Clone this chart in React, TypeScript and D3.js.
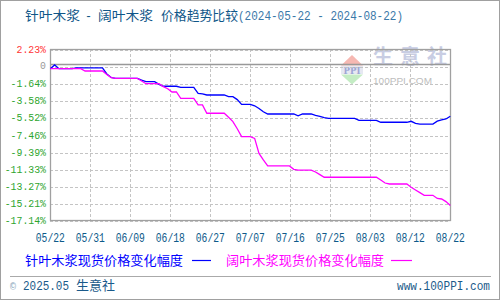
import React from 'react';
import * as d3 from 'd3';

const startDate = '2024-05-22';
const endDate = '2024-08-22';

// daily % change series (day 0 = 2024-05-22)
const softwood = [
  0, 0.42, 0, 0, 0, 0, 0.1, 0.1, 0.1, 0.1,
  0.1, 0.1, 0.1, -0.6, -1.0, -1.09, -1.09, -1.09, -1.09, -1.09,
  -1.09, -1.3, -1.47, -1.47, -1.47, -1.77, -1.99, -1.99, -1.99, -1.99,
  -2.11, -2.11, -2.11, -2.11, -2.79, -2.85, -2.98, -2.98, -2.98, -2.98,
  -2.98, -3.17, -3.17, -3.5, -4.04, -4.04, -4.04, -4.2, -4.51, -4.88,
  -5.13, -5.13, -5.13, -5.13, -5.13, -5.13, -5.13, -5.33, -5.13, -5.13,
  -5.13, -5.3, -5.4, -5.55, -5.62, -5.62, -5.62, -5.62, -5.62, -5.62,
  -5.62, -5.85, -5.85, -5.85, -5.85, -5.85, -6.07, -6.07, -6.07, -6.07,
  -6.07, -6.07, -6.07, -5.96, -6.2, -6.27, -6.27, -6.27, -6.27, -5.95,
  -5.81, -5.7, -5.38,
];

const hardwood = [
  0, 0, 0, 0, 0, 0, 0, 0, -0.26, -0.26,
  -0.26, -0.26, -0.26, -0.65, -1.0, -1.09, -1.09, -1.09, -1.09, -1.09,
  -1.09, -1.4, -1.7, -1.7, -1.7, -1.7, -2.04, -2.27, -2.64, -2.64,
  -3.36, -3.36, -3.36, -3.36, -4.11, -4.11, -5.05, -5.05, -5.05, -5.05,
  -5.05, -5.5, -5.99, -6.8, -7.7, -7.7, -7.7, -7.9, -9.6, -10.34,
  -11.02, -11.02, -11.02, -11.02, -11.02, -11.02, -11.4, -11.5, -11.5, -11.5,
  -11.5, -11.7, -12.0, -12.3, -12.3, -12.3, -12.3, -12.3, -12.3, -12.3,
  -12.3, -12.3, -12.3, -12.3, -12.3, -12.3, -12.61, -12.95, -13.06, -13.06,
  -13.06, -13.06, -13.06, -13.44, -13.74, -14.04, -14.34, -14.34, -14.34, -14.7,
  -14.76, -15.06, -15.5,
];

const xTickLabels = ['05/22', '05/31', '06/09', '06/18', '06/27', '07/07', '07/16', '07/25', '08/03', '08/12', '08/22'];
const yTickValues = [2.23, 0, -1.64, -3.58, -5.52, -7.46, -9.39, -11.33, -13.27, -15.21, -17.14];
const seriesNames = ['针叶木浆现货价格变化幅度', '阔叶木浆现货价格变化幅度'];
const seriesColors = ['#0000ff', '#ff00ff'];
const titleParts = ['针叶木浆', '-', '阔叶木浆', '价格趋势比较'];
const titleDates = '(2024-05-22 - 2024-08-22)';

const CJK = '"Noto Sans CJK SC", sans-serif';
const MONO = '"Liberation Mono", "DejaVu Sans Mono", monospace';

export default function App() {
  const W = 500, H = 300;
  const L = 50.3, R = 450.3, T = 49, B = 220;
  const parse = d3.utcParse('%Y-%m-%d');
  const t0 = parse(startDate)!;
  const t1 = parse(endDate)!;
  const x = d3.scaleUtc().domain([t0, t1]).range([L, R]);
  const yMin = yTickValues[yTickValues.length - 1];
  const yMax = yTickValues[0];
  const y = d3.scaleLinear().domain([yMin, yMax]).range([B, T]);

  const dates = softwood.map((_, i) => d3.utcDay.offset(t0, i));
  const line = d3.line<number>().x((_, i) => x(dates[i])).y((v) => y(v));

  const span = t1.getTime() - t0.getTime();
  const tickX = xTickLabels.map((_, k) => x(new Date(t0.getTime() + (k * span) / 10)));
  const gridVals = d3.range(11).map((k) => yMin + (k * (yMax - yMin)) / 10);
  const zeroY = Math.round(y(0)) - 4.5;

  const labelColor = (v: number) => (v > 0 ? '#ff3333' : v === 0 ? '#999999' : '#2ea52e');

  const titleX = [25, 85, 98, 161];
  const titleW = [55, 7, 55, 77];

  return (
    <svg width={W} height={H} style={{ position: 'absolute', left: 0, top: 0, background: '#fff' }}>
      <rect x={0.5} y={0.5} width={W - 1} height={H - 1} fill="#fff" stroke="#a0a0a0" />

      {/* title */}
      {titleParts.map((p, i) => (
        <text key={'t' + i} x={titleX[i]} y={19.5} fontFamily={p === '-' ? MONO : CJK} fontSize={13} fill="#0f5688"
          textLength={titleW[i]} lengthAdjust="spacingAndGlyphs">
          {p}
        </text>
      ))}
      <text x={238} y={19.5} fontFamily={MONO} fontSize={12} fill="#3a78a8" textLength={165} lengthAdjust="spacingAndGlyphs">
        {titleDates}
      </text>

      {/* watermark */}
      <g>
        <path d={`M352,55 L363,65.5 L341,65.5 Z`} fill="#f6b8b2" />
        <rect x={341} y={66} width={22} height={8} fill="#e6e8f2" />
        <text x={352} y={73.5} textAnchor="middle" fontFamily="DejaVu Serif, serif" fontWeight="bold" fontSize={8.5} fill="#9ea6d4">PPI</text>
        <path d={`M341,74.5 L363,74.5 L352,84.5 Z`} fill="#c4ecc4" />
        <text x={373} y={64} fontFamily={CJK} fontSize={20} fontWeight="bold" fill="#c8cde3" textLength={74} lengthAdjust="spacing">生意社</text>
        <text x={373} y={84} fontFamily="Liberation Sans, sans-serif" fontSize={9} fill="#bdbdbd" textLength={59} lengthAdjust="spacingAndGlyphs">100PPI.COM</text>
      </g>

      {/* grid */}
      <g stroke="#c4c4c4" strokeDasharray="3,2" shapeRendering="crispEdges">
        {gridVals.map((v, i) => (
          <line key={'h' + i} x1={L} x2={R} y1={Math.round(y(v)) + 1.5} y2={Math.round(y(v)) + 1.5} />
        ))}
        {tickX.slice(1, -1).map((tx, i) => (
          <line key={'v' + i} x1={Math.round(tx) + 0.5} x2={Math.round(tx) + 0.5} y1={T} y2={B} />
        ))}
      </g>
      <line x1={L} x2={R} y1={zeroY} y2={zeroY} stroke="#999" strokeWidth={1.3} />

      {/* frame */}
      <rect x={Math.round(L) + 0.5} y={T + 0.5} width={R - L} height={B - T} fill="none" stroke="#a0a0a0" strokeWidth={1.3} />

      {/* series */}
      <path d={line(softwood) || ''} fill="none" stroke={seriesColors[0]} strokeWidth={1.3} />
      <path d={line(hardwood) || ''} fill="none" stroke={seriesColors[1]} strokeWidth={1.3} />

      {/* y labels */}
      {yTickValues.map((v, i) => {
        const txt = v === 0 ? '0' : v.toFixed(2) + '%';
        const yy = v === 0 ? zeroY : y(v);
        return (
          <text key={'yl' + i} x={46} y={yy + 4} textAnchor="end" fontFamily={MONO} fontSize={11} fill={labelColor(v)}
            textLength={txt.length * 5.9} lengthAdjust="spacingAndGlyphs">
            {txt}
          </text>
        );
      })}

      {/* x labels */}
      {xTickLabels.map((lab, k) => (
        <text key={'xl' + k} x={tickX[k]} y={241.5} textAnchor="middle" fontFamily={MONO} fontSize={12} fill="#0d5a8a"
          textLength={29} lengthAdjust="spacingAndGlyphs">
          {lab}
        </text>
      ))}

      {/* legend */}
      <text x={25} y={265} fontFamily={CJK} fontSize={13} fill={seriesColors[0]} textLength={158} lengthAdjust="spacingAndGlyphs">{seriesNames[0]}</text>
      <line x1={192} x2={211} y1={260.5} y2={260.5} stroke={seriesColors[0]} strokeWidth={1.2} />
      <text x={226} y={265} fontFamily={CJK} fontSize={13} fill={seriesColors[1]} textLength={158} lengthAdjust="spacingAndGlyphs">{seriesNames[1]}</text>
      <line x1={391} x2={412} y1={260.5} y2={260.5} stroke={seriesColors[1]} strokeWidth={1.2} />

      {/* footer */}
      <line x1={10} x2={491} y1={276.5} y2={276.5} stroke="#aaaaaa" />
      <text x={10} y={290} fontFamily={MONO} fontSize={10} fill="#7f9fb8">©</text>
      <text x={23} y={290} fontFamily={MONO} fontSize={12} fill="#1a5a8a" textLength={46} lengthAdjust="spacingAndGlyphs">2025.05</text>
      <text x={76} y={290} fontFamily={CJK} fontSize={13} fill="#1a5a8a" textLength={39} lengthAdjust="spacingAndGlyphs">生意社</text>
      <text x={490} y={290} textAnchor="end" fontFamily={MONO} fontSize={12} fill="#1a5a8a" textLength={93} lengthAdjust="spacingAndGlyphs">www.100PPI.com</text>
    </svg>
  );
}
